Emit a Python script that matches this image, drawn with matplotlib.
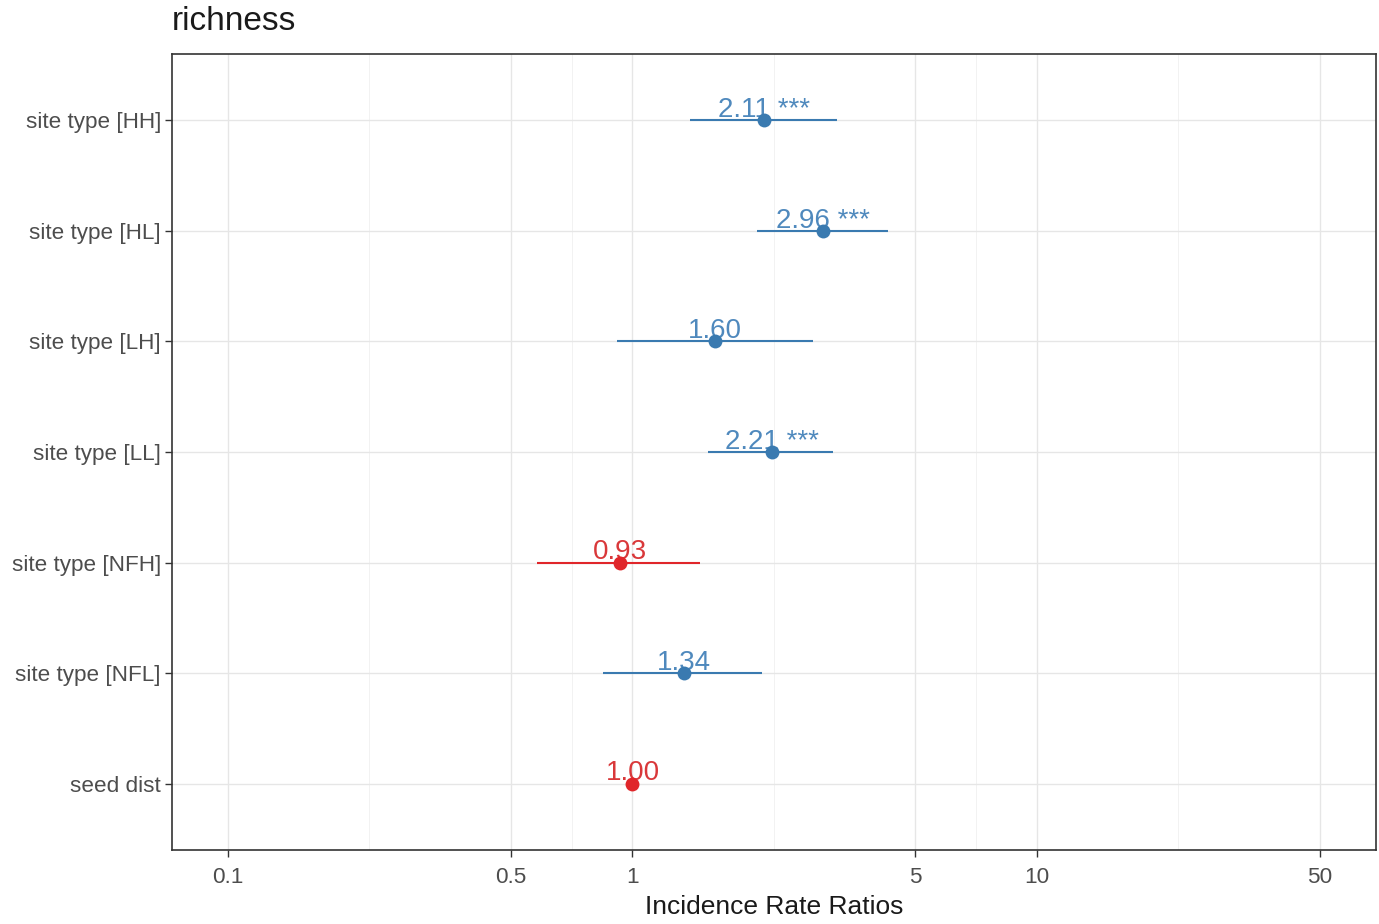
import numpy as np
import matplotlib
matplotlib.use("Agg")
import matplotlib.pyplot as plt
from matplotlib.ticker import FixedLocator, NullFormatter

plt.rcParams["font.family"] = ["Liberation Sans", "DejaVu Sans"]

terms = ["site type [HH]", "site type [HL]", "site type [LH]", "site type [LL]",
         "site type [NFH]", "site type [NFL]", "seed dist"]
estimates = [2.11, 2.96, 1.60, 2.21, 0.93, 1.34, 1.00]
ci_low = [1.39, 2.03, 0.915, 1.54, 0.58, 0.845, 0.99]
ci_high = [3.20, 4.28, 2.79, 3.13, 1.47, 2.09, 1.01]
stars = ["***", "***", "", "***", "", "", ""]

major_ticks = [0.1, 0.5, 1, 5, 10, 50]
tick_labels = ["0.1", "0.5", "1", "5", "10", "50"]

BLUE = "#3a7ab0"
RED = "#e0262a"
BLUE_TXT = "#4f89bd"
RED_TXT = "#d9383a"

fig = plt.figure(figsize=(13.79, 9.24), dpi=100)
ax = fig.add_axes([172 / 1379, 1 - 850 / 924, (1376 - 172) / 1379, (850 - 54) / 924])

ax.set_xscale("log")
ax.set_xlim(0.0727, 68.9)
ax.set_ylim(7.6, 0.4)

# grid: majors plus ggplot-style minors halfway (in log space) between majors
lg = np.log10(major_ticks)
minors = [10 ** ((a + b) / 2) for a, b in zip(lg[:-1], lg[1:])]
for v in major_ticks:
    ax.axvline(v, color="#e6e6e6", lw=1.0, zorder=0)
for v in minors:
    ax.axvline(v, color="#f0f0f0", lw=0.6, zorder=0)
for y in range(1, len(terms) + 1):
    ax.axhline(y, color="#e6e6e6", lw=1.0, zorder=0)

ypos = np.arange(1, len(terms) + 1)
for y, est, lo, hi, st in zip(ypos, estimates, ci_low, ci_high, stars):
    # estimates at or below 1 are drawn in red
    neg = est <= 1
    c = RED if neg else BLUE
    tc = RED_TXT if neg else BLUE_TXT
    ax.plot([lo, hi], [y, y], color=c, lw=1.5, zorder=2, solid_capstyle="butt")
    ax.plot(est, y, "o", color=c, ms=10, zorder=4, mec="none")
    label = f"{est:.2f}" + (f" {st}" if st else "")
    ax.text(est, y - 0.03, label, ha="center", va="baseline",
            color=tc, fontsize=20, zorder=3)

ax.xaxis.set_major_locator(FixedLocator(major_ticks))
ax.xaxis.set_minor_locator(FixedLocator([]))
ax.xaxis.set_minor_formatter(NullFormatter())
ax.set_xticklabels(tick_labels)
ax.set_yticks(ypos)
ax.set_yticklabels(terms)

ax.tick_params(axis="both", colors="#333333", length=5, width=1.0,
               labelsize=16.2, labelcolor="#4d4d4d")
ax.tick_params(axis="x", pad=7)
ax.tick_params(axis="y", pad=3)

for sp in ax.spines.values():
    sp.set_color("#333333")
    sp.set_linewidth(1.2)

ax.set_xlabel("Incidence Rate Ratios", fontsize=19, color="#1a1a1a", labelpad=5)
fig.text(172 / 1379, 1 - 22 / 924, "richness", fontsize=24, color="#1a1a1a",
         ha="left", va="center")

fig.savefig("out.png", dpi=100, facecolor="white")
